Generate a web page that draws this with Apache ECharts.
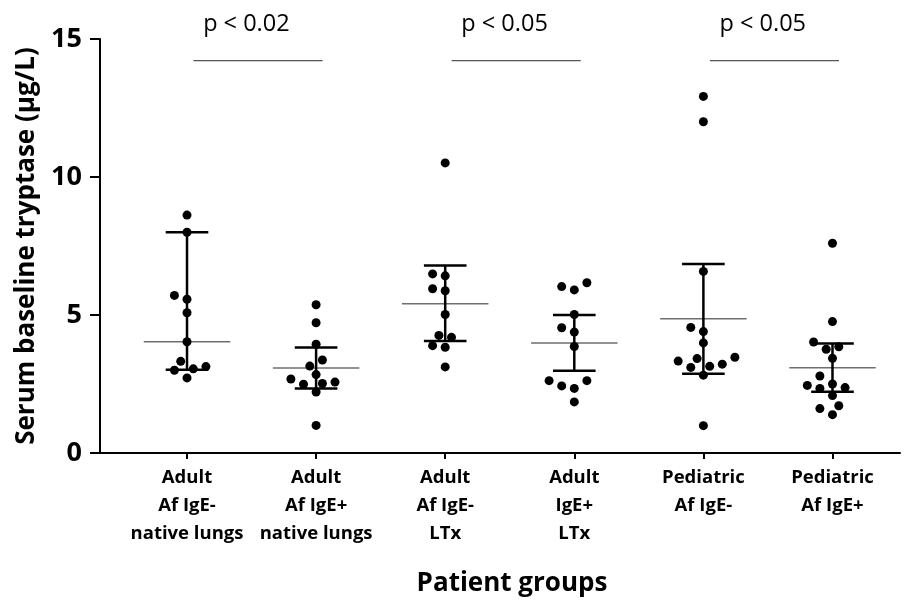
<!DOCTYPE html>
<html>
<head>
<meta charset="utf-8">
<script src="https://cdn.jsdelivr.net/npm/echarts@6/dist/echarts.min.js"></script>
<style>
html,body{margin:0;padding:0;background:#fff;}
#chart{width:907px;height:602px;}
</style>
</head>
<body>
<div id="chart"></div>
<script>
// ---- data ----
const categories = [
  'Adult\nAf IgE-\nnative lungs',
  'Adult\nAf IgE+\nnative lungs',
  'Adult\nAf IgE-\nLTx',
  'Adult\nIgE+\nLTx',
  'Pediatric\nAf IgE-',
  'Pediatric\nAf IgE+'
];
const group1 = [8.62, 8.0, 5.57, 5.71, 5.08, 4.03, 3.32, 3.05, 3.0, 3.13, 2.72];
const group2 = [5.37, 4.72, 3.94, 3.37, 3.15, 2.84, 2.57, 2.49, 2.52, 2.68, 2.21, 1.0];
const group3 = [10.51, 6.42, 6.49, 5.95, 5.88, 5.02, 4.26, 4.19, 3.89, 3.83, 3.12];
const group4 = [6.03, 5.91, 6.17, 5.02, 4.54, 4.38, 3.86, 2.62, 2.43, 2.34, 2.62, 1.85];
const group5 = [12.92, 12.0, 6.58, 4.55, 4.40, 3.99, 3.47, 3.42, 3.33, 3.22, 3.10, 3.14, 2.82, 0.99];
const group6 = [7.6, 4.76, 4.02, 3.76, 3.85, 3.43, 2.79, 2.45, 2.34, 2.37, 2.50, 2.08, 1.71, 1.61, 1.39];
const centerValues = [4.03, 3.08, 5.41, 3.99, 4.86, 3.09];
const lowerValues  = [3.02, 2.34, 4.06, 2.98, 2.87, 2.22];
const upperValues  = [8.0, 3.82, 6.79, 5.0, 6.85, 3.97];
const pLabels = ['p < 0.02', 'p < 0.05', 'p < 0.05'];
const pPairs = [[0, 1], [2, 3], [4, 5]];
const pBarLevel = 14.22;
const pTextLevel = 15.55;
const yTicks = [0, 5, 10, 15];

const groups = [group1, group2, group3, group4, group5, group6];
const FONT = '"Open Sans"';

const chart = echarts.init(document.getElementById('chart'), null, {renderer: 'canvas'});

const summaryData = centerValues.map((m, i) => [i, lowerValues[i], m, upperValues[i]]);
const pData = pPairs.map((p, i) => [p[0], p[1], pLabels[i]]);

const option = {
  backgroundColor: '#fff',
  animation: false,
  grid: {left: 100, right: 7, top: 39, bottom: 149, containLabel: false, outerBoundsMode: 'none'},
  xAxis: {
    type: 'value',
    min: -0.674, max: 5.523,
    splitLine: {show: false},
    axisLine: {show: true, onZero: false, lineStyle: {color: '#000', width: 2}},
    axisTick: {show: true, customValues: [0, 1, 2, 3, 4, 5], length: 6, lineStyle: {color: '#000', width: 2}},
    axisLabel: {
      show: true,
      customValues: [0, 1, 2, 3, 4, 5],
      formatter: v => categories[Math.round(v)],
      color: '#000', fontFamily: FONT, fontWeight: 'bold', fontSize: 18.5, lineHeight: 28, margin: 11
    },
    name: 'Patient groups',
    nameLocation: 'middle',
    nameGap: 118,
    nameTextStyle: {color: '#000', fontFamily: FONT, fontWeight: 'bold', fontSize: 26, padding: [0, 0, 0, 24]}
  },
  yAxis: {
    type: 'value',
    min: 0, max: 15, interval: 5,
    splitLine: {show: false},
    axisLine: {show: true, onZero: false, lineStyle: {color: '#000', width: 2}},
    axisTick: {show: true, length: 10, lineStyle: {color: '#000', width: 2}},
    axisLabel: {color: '#000', fontFamily: FONT, fontWeight: 'bold', fontSize: 27, margin: 18,
      customValues: yTicks},
    name: 'Serum baseline tryptase (µg/L)',
    nameLocation: 'middle',
    nameGap: 60,
    nameTextStyle: {color: '#000', fontFamily: FONT, fontWeight: 'bold', fontSize: 26}
  },
  series: [
    {
      id: 'summary',
      type: 'custom',
      data: summaryData,
      z: 2,
      renderItem: function (params, api) {
        const x = api.value(0);
        const lo = api.coord([x, api.value(1)]);
        const mid = api.coord([x, api.value(2)]);
        const hi = api.coord([x, api.value(3)]);
        const w = api.size([1, 0])[0];
        const mh = w * 0.335, ch = w * 0.165;
        return {
          type: 'group',
          children: [
            {type: 'line', shape: {x1: mid[0] - mh, y1: mid[1], x2: mid[0] + mh, y2: mid[1]},
              style: {stroke: '#6e6e6e', lineWidth: 1.5}},
            {type: 'line', shape: {x1: lo[0], y1: lo[1], x2: hi[0], y2: hi[1]},
              style: {stroke: '#000', lineWidth: 2.5}},
            {type: 'line', shape: {x1: hi[0] - ch, y1: hi[1], x2: hi[0] + ch, y2: hi[1]},
              style: {stroke: '#000', lineWidth: 2.5}},
            {type: 'line', shape: {x1: lo[0] - ch, y1: lo[1], x2: lo[0] + ch, y2: lo[1]},
              style: {stroke: '#000', lineWidth: 2.5}}
          ]
        };
      }
    },
    {
      id: 'pvals',
      type: 'custom',
      data: pData,
      clip: false,
      z: 2,
      renderItem: function (params, api) {
        const a = api.value(0), b = api.value(1);
        const p1 = api.coord([a + 0.05, pBarLevel]);
        const p2 = api.coord([b + 0.05, pBarLevel]);
        const t = api.coord([(a + b) / 2 - 0.04, pTextLevel]);
        return {
          type: 'group',
          children: [
            {type: 'line', shape: {x1: p1[0], y1: p1[1], x2: p2[0], y2: p2[1]},
              style: {stroke: '#555', lineWidth: 1.3}},
            {type: 'text', x: t[0], y: t[1],
              style: {text: pData[params.dataIndex][2], fill: '#000', font: '23.5px ' + FONT,
                textAlign: 'center', textVerticalAlign: 'middle'}}
          ]
        };
      }
    },
    {
      id: 'points',
      type: 'scatter',
      symbol: 'circle',
      symbolSize: 9,
      itemStyle: {color: '#000', opacity: 1},
      z: 3,
      data: []
    }
  ]
};

chart.setOption(option);

// beeswarm layout using the chart's own scales
const pxPerUnit = chart.convertToPixel({xAxisIndex: 0}, 1) - chart.convertToPixel({xAxisIndex: 0}, 0);
const STEP = 6.3, MIN_DIST = 10.5;
const pts = [];
groups.forEach((vals, gi) => {
  const placed = [];
  vals.slice().sort((a, b) => a - b).forEach(v => {
    const py = chart.convertToPixel({yAxisIndex: 0}, v);
    for (let k = 0; k < 40; k++) {
      const off = k === 0 ? 0 : (k % 2 ? -1 : 1) * Math.ceil(k / 2) * STEP;
      if (placed.every(p => Math.hypot(p.x - off, p.y - py) >= MIN_DIST)) {
        placed.push({x: off, y: py});
        pts.push([gi + off / pxPerUnit, v]);
        break;
      }
    }
  });
});
chart.setOption({series: [{id: 'points', data: pts}]});
</script>
</body>
</html>
